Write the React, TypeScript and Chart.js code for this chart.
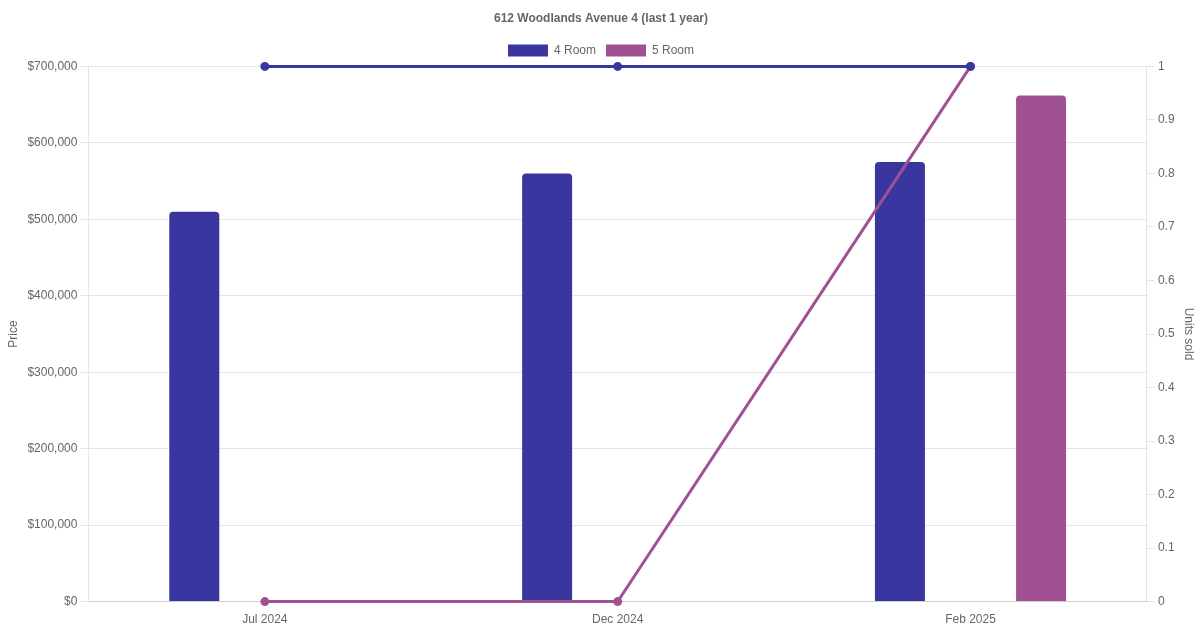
import React, { useEffect, useRef } from "react";
import { Chart, registerables } from "chart.js";

Chart.register(...registerables);

const title = "612 Woodlands Avenue 4 (last 1 year)";
const categories = ["Jul 2024", "Dec 2024", "Feb 2025"];
const price4Room = [510000, 560000, 575000];
const price5Room = [null, null, 662000];
const units4Room = [1, 1, 1];
const units5Room = [0, 0, 1];
const color4 = "rgb(58, 54, 160)";
const color5 = "rgb(160, 81, 148)";

export default function App() {
  const ref = useRef<HTMLCanvasElement | null>(null);
  useEffect(() => {
    document.body.style.margin = "0";
    const ctx = ref.current!;
    const chart = new Chart(ctx, {
      type: "bar",
      data: {
        labels: categories,
        datasets: [
          {
            type: "line",
            label: "4 Room units",
            data: units4Room,
            yAxisID: "y1",
            borderColor: color4,
            backgroundColor: color4,
            borderWidth: 3,
            pointRadius: 3,
            clip: false,
            order: 0,
          } as any,
          {
            type: "line",
            label: "5 Room units",
            data: units5Room,
            yAxisID: "y1",
            borderColor: color5,
            backgroundColor: color5,
            borderWidth: 3,
            pointRadius: 3,
            clip: false,
            order: 0,
          } as any,
          {
            label: "4 Room",
            data: price4Room,
            yAxisID: "y",
            backgroundColor: color4,
            borderWidth: 0,
            borderRadius: { topLeft: 4, topRight: 4 },
            borderSkipped: "bottom",
            maxBarThickness: 50,
            order: 1,
          },
          {
            label: "5 Room",
            data: price5Room,
            yAxisID: "y",
            backgroundColor: color5,
            borderWidth: 0,
            borderRadius: { topLeft: 4, topRight: 4 },
            borderSkipped: "bottom",
            maxBarThickness: 50,
            order: 1,
          },
        ],
      },
      options: {
        animation: false,
        responsive: false,
        maintainAspectRatio: false,
        layout: { padding: { left: 2, right: 0, top: 1, bottom: 0 } },
        plugins: {
          title: {
            display: true,
            text: title,
            color: "#666",
            font: { size: 12, weight: "bold" },
            padding: { top: 10, bottom: 9 },
          },
          legend: {
            labels: {
              color: "#666",
              font: { size: 12 },
              filter: (item: any) => item.text === "4 Room" || item.text === "5 Room",
            },
          },
          tooltip: { enabled: false },
        },
        scales: {
          x: {
            grid: { display: false },
            ticks: { color: "#666", font: { size: 12 } },
          },
          y: {
            position: "left",
            min: 0,
            max: 700000,
            ticks: {
              stepSize: 100000,
              color: "#666",
              font: { size: 12 },
              callback: (v: any) => "$" + Number(v).toLocaleString("en-US"),
            },
            title: { display: true, text: "Price", color: "#666", font: { size: 12 } },
          },
          y1: {
            position: "right",
            min: 0,
            max: 1,
            grid: { drawOnChartArea: false },
            ticks: {
              stepSize: 0.1,
              color: "#666",
              font: { size: 12 },
              callback: (v: any) => String(Math.round(Number(v) * 10) / 10),
            },
            title: { display: true, text: "Units sold", color: "#666", font: { size: 12 } },
          },
        },
      } as any,
    });
    return () => chart.destroy();
  }, []);
  return (
    <div style={{ width: 1200, height: 630 }}>
      <canvas ref={ref} width={1200} height={630} style={{ width: 1200, height: 630, display: "block" }} />
    </div>
  );
}
